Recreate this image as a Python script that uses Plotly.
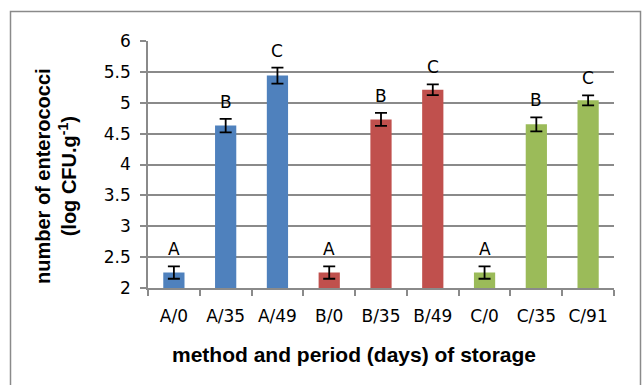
import plotly.graph_objects as go

categories = ["A/0", "A/35", "A/49", "B/0", "B/35", "B/49", "C/0", "C/35", "C/91"]
values = [2.25, 4.63, 5.44, 2.25, 4.73, 5.21, 2.25, 4.65, 5.04]
errors = [0.10, 0.11, 0.13, 0.10, 0.105, 0.088, 0.10, 0.113, 0.081]
letters = ["A", "B", "C", "A", "B", "C", "A", "B", "C"]
colors = ["#4F81BD"] * 3 + ["#C0504D"] * 3 + ["#9BBB59"] * 3
y_ticks = [2, 2.5, 3, 3.5, 4, 4.5, 5, 5.5, 6]

FONT = "Liberation Sans, Arial, sans-serif"
TICKFONT = "DejaVu Sans, Liberation Sans, sans-serif"
W, H = 643, 385
L, R, T, B = 148, 29, 41, 97
pw, ph = W - L - R, H - T - B

def px_x(p):
    return (p - L) / pw

def px_y(p):
    return (H - B - p) / ph

fig = go.Figure()
fig.add_trace(go.Bar(
    x=categories, y=values,
    marker=dict(color=colors, line=dict(width=0)),
    error_y=dict(type="data", array=errors, visible=True, color="black",
                 thickness=1.8, width=6),
    showlegend=False,
))

for c, v, e, t in zip(categories, values, errors, letters):
    fig.add_annotation(x=c, y=v + e, text=t, showarrow=False,
                       yanchor="bottom", yshift=5,
                       font=dict(family=TICKFONT, size=17, color="black"))

fig.add_annotation(
    x=px_x(56), y=px_y(176), xref="paper", yref="paper",
    text="<b>number of enterococci</b><br><b>(log CFU.g<sup>-1</sup>)</b>",
    textangle=-90, showarrow=False, xanchor="center", yanchor="middle",
    font=dict(family=FONT, size=20, color="black"))

fig.add_annotation(
    x=px_x(354), y=px_y(354), xref="paper", yref="paper",
    text="<b>method and period (days) of storage</b>",
    showarrow=False, xanchor="center", yanchor="middle",
    font=dict(family=FONT, size=21, color="black"))

fig.add_shape(type="rect", xref="paper", yref="paper",
              x0=px_x(10.5), x1=px_x(640.5), y0=px_y(420), y1=px_y(11.5),
              line=dict(color="#8a8a8a", width=1.5), fillcolor="rgba(0,0,0,0)",
              layer="below")

fig.update_layout(
    width=W, height=H,
    margin=dict(l=L, r=R, t=T, b=B),
    paper_bgcolor="white", plot_bgcolor="white",
    bargap=0.59,
    font=dict(family=TICKFONT, size=17, color="black"),
    xaxis=dict(
        type="category", range=[-0.5, 8.5],
        showline=True, linecolor="#8a8a8a", linewidth=1.5,
        ticks="outside", tickson="boundaries", ticklen=6,
        tickcolor="#8a8a8a", tickwidth=1.5,
        ticklabelstandoff=12,
        showgrid=False,
        tickfont=dict(family=TICKFONT, size=17, color="black"),
    ),
    yaxis=dict(
        range=[2, 6], tickvals=y_ticks,
        ticktext=[("%g" % v) for v in y_ticks],
        showline=True, linecolor="#8a8a8a", linewidth=1.5,
        ticks="outside", ticklen=6, tickcolor="#8a8a8a", tickwidth=1.5,
        ticklabelstandoff=6,
        showgrid=True, gridcolor="#8a8a8a", gridwidth=1.5,
        zeroline=False,
        tickfont=dict(family=TICKFONT, size=17, color="black"),
    ),
)

fig.write_html("out.html", config={"displayModeBar": False},
               post_script="document.body.style.margin='0';")
